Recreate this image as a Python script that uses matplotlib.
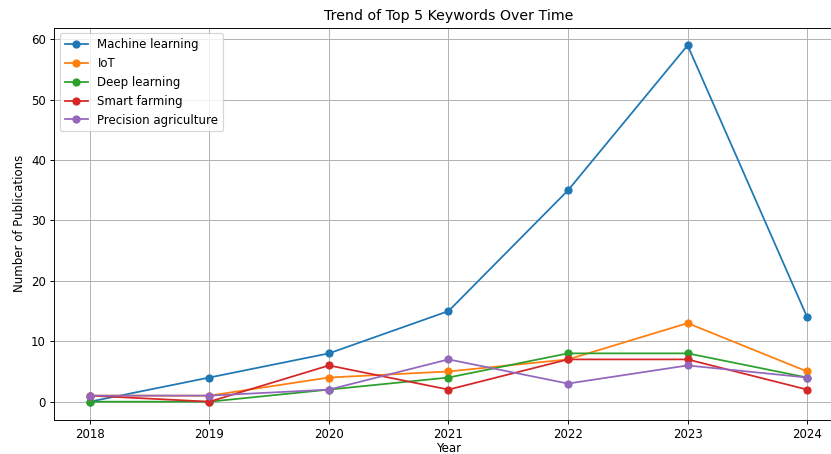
import matplotlib
matplotlib.use("Agg")
import matplotlib.pyplot as plt

years = [2018, 2019, 2020, 2021, 2022, 2023, 2024]
machine_learning = [0, 4, 8, 15, 35, 59, 14]
iot = [1, 1, 4, 5, 7, 13, 5]
deep_learning = [0, 0, 2, 4, 8, 8, 4]
smart_farming = [1, 0, 6, 2, 7, 7, 2]
precision_agri = [1, 1, 2, 7, 3, 6, 4]

series = [
    ("Machine learning", machine_learning),
    ("IoT", iot),
    ("Deep learning", deep_learning),
    ("Smart farming", smart_farming),
    ("Precision agriculture", precision_agri),
]

# reference looks like a 100 dpi figure shrunk to ~85% and cut off on the right
dpi = 84.6
W, H = 831, 454
fig = plt.figure(figsize=(W / dpi, H / dpi), dpi=dpi)
ax = fig.add_axes([54 / W, 1 - 419.5 / H, (843 - 54) / W, (419.5 - 27.5) / H])
for name, vals in series:
    ax.plot(years, vals, marker='o', label=name)

ax.set_title('Trend of Top 5 Keywords Over Time')
ax.set_xlabel('Year', labelpad=1.5)
ax.set_ylabel('Number of Publications')
ax.grid(True)
ax.legend(loc='upper left')
fig.savefig('out.png', dpi=dpi)
